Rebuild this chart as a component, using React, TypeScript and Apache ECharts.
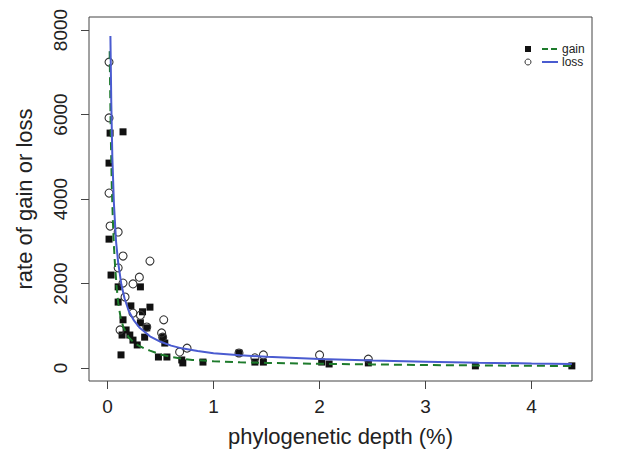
import React, { useEffect, useRef } from "react";
import * as echarts from "echarts";

const FONT = "'Liberation Sans', Arial, Helvetica, sans-serif";

const xTicks = [0, 1, 2, 3, 4];
const yTicks = [0, 2000, 4000, 6000, 8000];

const xTitle = "phylogenetic depth (%)";
const yTitle = "rate of gain or loss";
const legendNames = ["gain", "loss"];

// gain: filled squares
const gainPoints: [number, number][] = [
  [0.024, 5560], [0.146, 5590], [0.014, 4850], [0.014, 3050], [0.033, 2200],
  [0.1, 1920], [0.31, 1920], [0.1, 1560], [0.22, 1470], [0.4, 1440],
  [0.33, 1330], [0.146, 1140], [0.31, 1070], [0.175, 900], [0.37, 950],
  [0.137, 780], [0.21, 780], [0.24, 660], [0.35, 730], [0.52, 730],
  [0.28, 545], [0.54, 590], [0.127, 310], [0.48, 260], [0.56, 260],
  [0.7, 190], [0.71, 120], [0.9, 140], [1.24, 355], [1.39, 140],
  [1.47, 140], [2.02, 140], [2.09, 95], [2.46, 120], [3.47, 50], [4.38, 50],
];

// loss: open circles
const lossPoints: [number, number][] = [
  [0.014, 7240], [0.014, 5920], [0.014, 4140], [0.024, 3360], [0.1, 3220],
  [0.146, 2650], [0.4, 2530], [0.1, 2370], [0.3, 2150], [0.146, 2010],
  [0.24, 1990], [0.165, 1680], [0.24, 1300], [0.31, 1250], [0.53, 1140],
  [0.37, 970], [0.118, 900], [0.51, 830], [0.52, 730], [0.75, 470],
  [0.68, 380], [1.24, 355], [1.39, 240], [1.47, 310], [2.0, 310], [2.46, 210],
];

// fitted curves
const gainCurve: [number, number][] = [
  [0.02, 7500], [0.03, 5600], [0.04, 4300], [0.05, 3500], [0.06, 2900],
  [0.07, 2450], [0.085, 1950], [0.1, 1550], [0.125, 1170], [0.15, 960],
  [0.2, 720], [0.25, 600], [0.3, 520], [0.35, 460], [0.4, 410], [0.5, 320],
  [0.6, 260], [0.7, 220], [0.8, 190], [1.0, 160], [1.25, 135], [1.5, 120],
  [2.0, 100], [2.5, 85], [3.0, 70], [3.5, 60], [4.0, 52], [4.38, 47],
];

const lossCurve: [number, number][] = [
  [0.027, 7860], [0.035, 6300], [0.045, 5000], [0.06, 3900], [0.08, 3000],
  [0.1, 2500], [0.13, 1980], [0.16, 1650], [0.2, 1350], [0.25, 1120],
  [0.3, 960], [0.4, 750], [0.5, 620], [0.6, 530], [0.7, 465], [0.85, 400],
  [1.0, 350], [1.25, 300], [1.5, 265], [2.0, 210], [2.5, 175], [3.0, 150],
  [3.5, 125], [4.0, 108], [4.38, 97],
];

const GREEN = "#1e7b2c";
const BLUE = "#4a5bd0";
const INK = "#222";
const FRAME = "#444";

export default function App() {
  const ref = useRef<HTMLDivElement>(null);
  useEffect(() => {
    const chart = echarts.init(ref.current!, null, { renderer: "svg" });
    chart.setOption({
      animation: false,
      backgroundColor: "#fff",
      grid: {
        left: 89, right: 30, top: 17, bottom: 76,
        show: true, borderColor: FRAME, borderWidth: 1,
      },
      xAxis: {
        type: "value", min: -0.175, max: 4.57,
        axisLine: { show: false, onZero: false },
        splitLine: { show: false },
        axisTick: { show: true, inside: false, length: 8, lineStyle: { color: FRAME }, customValues: xTicks },
        axisLabel: {
          margin: 16, fontSize: 19, color: INK, fontFamily: FONT, customValues: xTicks,
          formatter: (v: number) => String(v),
        },
        name: xTitle, nameLocation: "middle", nameGap: 44,
        nameTextStyle: { fontSize: 22, color: INK, fontFamily: FONT },
      },
      yAxis: {
        type: "value", min: -308, max: 8308,
        axisLine: { show: false, onZero: false },
        splitLine: { show: false },
        axisTick: { show: true, inside: false, length: 8, lineStyle: { color: FRAME }, customValues: yTicks },
        axisLabel: {
          rotate: 90, margin: 19, fontSize: 19, color: INK, fontFamily: FONT, customValues: yTicks,
          formatter: (v: number) => String(v),
        },
        name: yTitle, nameLocation: "middle", nameGap: 54,
        nameTextStyle: { fontSize: 22, color: INK, fontFamily: FONT },
      },
      series: [
        {
          type: "scatter", name: legendNames[0], data: gainPoints,
          symbol: "rect", symbolSize: 7,
          itemStyle: { color: "#111", opacity: 1 },
        },
        {
          type: "scatter", name: legendNames[1], data: lossPoints,
          symbol: "circle", symbolSize: 8,
          itemStyle: { color: "rgba(255,255,255,0)", borderColor: "#333", borderWidth: 1.1, opacity: 1 },
        },
        {
          type: "line", data: gainCurve, showSymbol: false, symbol: "none",
          lineStyle: { color: GREEN, width: 2, type: [8, 5] },
        },
        {
          type: "line", data: lossCurve, showSymbol: false, symbol: "none",
          lineStyle: { color: BLUE, width: 2 },
        },
      ],
      graphic: [
        { type: "rect", shape: { x: 525, y: 46, width: 6, height: 6 }, style: { fill: "#111" } },
        { type: "line", shape: { x1: 542, y1: 49, x2: 558, y2: 49 }, style: { stroke: GREEN, lineWidth: 2, lineDash: [6, 3] } },
        { type: "text", x: 562, y: 49, style: { text: legendNames[0], fontSize: 12, fill: INK, fontFamily: FONT, verticalAlign: "middle" } },
        { type: "circle", shape: { cx: 528, cy: 62, r: 3 }, style: { fill: "none", stroke: "#333", lineWidth: 1 } },
        { type: "line", shape: { x1: 542, y1: 62, x2: 558, y2: 62 }, style: { stroke: BLUE, lineWidth: 2 } },
        { type: "text", x: 562, y: 62, style: { text: legendNames[1], fontSize: 12, fill: INK, fontFamily: FONT, verticalAlign: "middle" } },
      ],
    });
    return () => chart.dispose();
  }, []);
  return <div ref={ref} style={{ position: "absolute", left: 0, top: 0, width: 622, height: 457 }} />;
}
